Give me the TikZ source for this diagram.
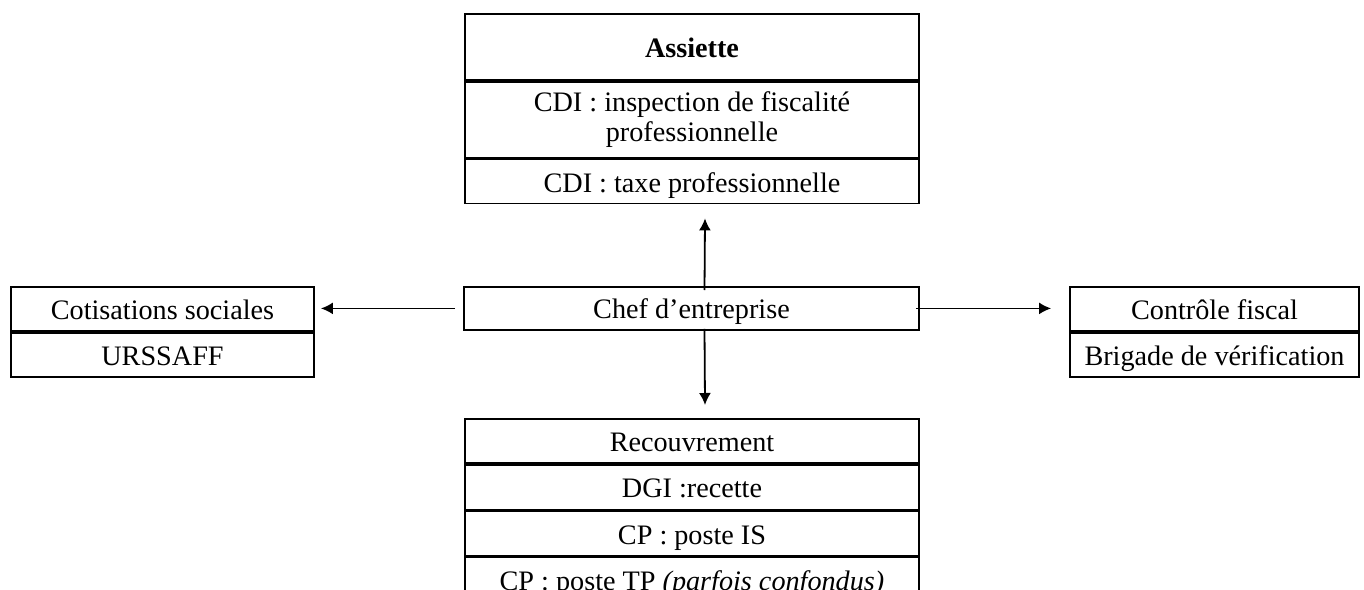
\documentclass[tikz,border=0pt]{standalone}
\usepackage{fontspec}
\setmainfont{Liberation Serif}
\usetikzlibrary{arrows.meta,calc}
\begin{document}
\begin{tikzpicture}[x=0.5pt,y=-0.5pt,
  box/.style={draw,line width=0.9pt,inner sep=0pt,align=center,anchor=north,
    font=\fontsize{14.1}{15}\selectfont},
  cell/.style={box,text height=10.5pt,text depth=0pt},
  arr/.style={line width=0.9pt,-{Latex[length=6pt,width=6pt]}}]
\useasboundingbox (0,0) rectangle (1364,589);
\clip (0,0) rectangle (1364,589);
% Assiette box
\node[cell,minimum width=227pt,minimum height=33pt] (a1) at (692,13) {\textbf{Assiette}};
\node[box,minimum width=227pt,minimum height=38pt] (a2) at (a1.south) {CDI : inspection de fiscalité\\professionnelle};
\node[cell,minimum width=227pt,minimum height=22pt] (a3) at (a2.south) {CDI : taxe professionnelle};
% Chef
\node[cell,minimum width=227.5pt,minimum height=21.5pt] (chef) at (691.5,286) {Chef d’entreprise};
% Left
\node[cell,minimum width=151.5pt,minimum height=22pt] (l1) at (162.5,286) {Cotisations sociales};
\node[cell,minimum width=151.5pt,minimum height=22pt] (l2) at (l1.south) {URSSAFF};
% Right
\node[cell,minimum width=144.5pt,minimum height=22pt] (r1) at (1214.5,286) {Contrôle fiscal};
\node[cell,minimum width=144.5pt,minimum height=22pt] (r2) at (r1.south) {Brigade de vérification};
% Bottom
\node[cell,minimum width=227pt,minimum height=22pt] (b1) at (692,418) {Recouvrement};
\node[cell,minimum width=227pt,minimum height=22.5pt] (b2) at (b1.south) {DGI :recette};
\node[cell,minimum width=227pt,minimum height=22pt] (b3) at (b2.south) {CP : poste IS};
\node[cell,minimum width=227pt,minimum height=23pt] (b4) at (b3.south) {CP : poste TP \textit{(parfois confondus)}};
% Arrows
\draw[arr] ([xshift=6.5pt,yshift=-2pt]chef.north) -- ([xshift=6.5pt,yshift=-7pt]a3.south);
\draw[arr] ([xshift=6.5pt,yshift=1pt]chef.south) -- ([xshift=6.5pt,yshift=6.5pt]b1.north);
\draw[arr] ([xshift=-4pt]chef.west) -- ([xshift=3pt]chef.west -| l1.east);
\draw[arr] ([xshift=-2pt]chef.east) -- ([xshift=-9pt]chef.east -| r1.west);
\end{tikzpicture}
\end{document}
